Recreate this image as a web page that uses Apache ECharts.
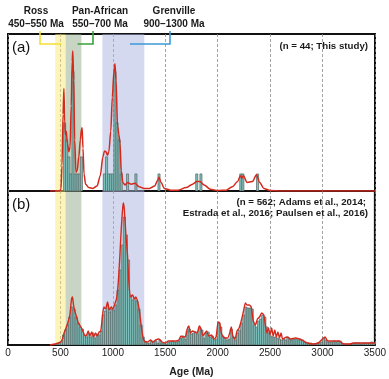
<!DOCTYPE html>
<html><head><meta charset="utf-8">
<script src="https://cdn.jsdelivr.net/npm/echarts@6/dist/echarts.min.js"></script>
<style>html,body{margin:0;padding:0;background:#fff}#c{width:389px;height:379px}</style>
</head><body><div id="c"></div>
<script>
// ---- data ----
const xTicks = [0, 500, 1000, 1500, 2000, 2500, 3000, 3500];
const binWidth = 20;
// panel (a): this study, histogram bins (start age, count)
const aBinStarts = [530, 550, 570, 590, 610, 630, 650, 670, 690, 910, 930, 950, 970, 990, 1010, 1030, 1050, 1070, 1130, 1210, 1430, 1790, 1830, 2210, 2230, 2370];
const aCounts    = [4, 3, 2, 1, 7, 1, 1, 1, 2, 1, 2, 1, 1, 1, 7, 4, 3, 1, 1, 1, 1, 1, 1, 1, 1, 1];
// panel (a) probability density curve (age, scaled density)
const aKdeAges = [400, 495, 505, 515, 525, 533, 541, 548, 556, 566, 580, 592, 603, 612, 618, 626, 636, 648, 660, 675, 690, 700, 707, 715, 725, 740, 770, 810, 850, 880, 905, 920, 935, 948, 962, 980, 995, 1010, 1020, 1030, 1045, 1058, 1068, 1080, 1095, 1115, 1140, 1175, 1210, 1250, 1300, 1350, 1400, 1425, 1440, 1460, 1490, 1550, 1620, 1700, 1760, 1800, 1830, 1870, 1930, 2000, 2080, 2140, 2190, 2215, 2230, 2245, 2280, 2330, 2370, 2400, 2440, 2500, 2600, 3500];
const aKdeVals = [0, 0, 0.1, 1.5, 4.5, 6.0, 4.0, 3.3, 3.5, 2.8, 2.3, 2.6, 5.0, 7.6, 8.2, 6.5, 3.0, 1.1, 1.2, 2.0, 3.0, 3.6, 3.7, 2.5, 1.0, 0.4, 0.2, 0.15, 0.3, 0.9, 2.0, 2.35, 2.3, 2.1, 2.3, 3.5, 5.5, 7.0, 7.45, 6.5, 3.8, 3.3, 2.8, 1.2, 0.5, 0.35, 0.5, 0.4, 0.45, 0.25, 0.15, 0.15, 0.3, 0.6, 0.8, 0.5, 0.15, 0.05, 0.05, 0.2, 0.4, 0.55, 0.55, 0.35, 0.1, 0.03, 0.05, 0.25, 0.55, 0.9, 0.75, 0.9, 0.5, 0.55, 0.95, 0.5, 0.15, 0.03, 0, 0];
// panel (b): compilation, histogram bins of 20 Ma starting at 400 Ma (relative heights)
const bFirstBin = 400;
const bHeights = [
  0,0,0,1,2,3,10,15,20,28,
  38,36,28,22,18,16,10,8,12,8,
  12,7,11,10,14,30,34,40,33,36,
  35,40,55,75,100,128,110,85,50,45,
  47,44,36,20,8,3,2,2,4,3,
  4,2,5,2,2,1,3,3,4,3,
  3,4,7,9,6,14,16,11,12,13,
  11,17,15,7,12,13,8,9,5,6,
  22,18,9,7,5,6,16,8,5,12,
  15,22,30,38,37,37,36,20,18,24,
  26,30,28,18,12,9,8,8,7,6,
  5,6,5,8,6,5,6,6,5,6,
  5,3,2,2,2,1,1,2,2,3,
  7,5,3,3,3,4,3,4,4,2,
  1,1,1,1,2,2,2,2,1,2,
  2,2,2,3,2];
// panel (b) probability density curve
const bKdeAges = [400,450,480,500,520,535,550,570,590,605,615,625,640,655,670,690,710,730,745,765,780,800,815,835,850,870,885,900,915,930,950,965,985,1000,1015,1035,1050,1065,1080,1095,1102,1110,1125,1140,1155,1170,1190,1205,1220,1240,1255,1270,1285,1300,1330,1360,1380,1410,1440,1470,1500,1530,1560,1600,1630,1650,1670,1690,1710,1725,1740,1760,1785,1805,1825,1845,1860,1880,1895,1915,1940,1965,1985,2005,2020,2035,2055,2075,2095,2115,2130,2145,2165,2185,2205,2225,2245,2265,2280,2300,2320,2340,2360,2380,2400,2420,2440,2455,2470,2485,2500,2515,2530,2545,2560,2575,2590,2605,2620,2640,2660,2680,2700,2740,2780,2820,2860,2900,2960,3000,3025,3050,3100,3160,3200,3260,3300,3400,3500];
const bKdeVals = [0,1,2,3,6,12,16,22,30,45,48,40,33,28,22,19,15,10,9,14,9,13,8,12,9,13,14,28,38,36,43,35,38,36,40,46,60,85,115,138,142,135,110,90,60,48,50,46,48,42,33,20,9,4,3,5,3,5,6,3,2,4,4,4,5,9,8,8,16,19,12,14,13,12,19,15,9,12,14,9,10,6,8,23,22,12,8,7,7,12,18,9,6,14,17,24,33,42,40,40,38,24,20,26,28,32,30,20,12,17,10,17,9,15,8,13,7,12,6,7,8,7,6,7,6,4,2,1,2,6,8,4,4,4,1,1,2,2,2];
// age bands
const bands = [
  {name: 'Ross', from: 450, to: 550, fill: 'rgba(250,234,120,0.5)', line: '#f2e030'},
  {name: 'Pan-African', from: 550, to: 700, fill: 'rgba(146,172,138,0.5)', line: '#3aa33a'},
  {name: 'Grenville', from: 900, to: 1300, fill: 'rgba(170,180,226,0.5)', line: '#3d9bd8'}
];

// ---- chart ----
const chart = echarts.init(document.getElementById('c'), null, {renderer: 'canvas'});
const FONT = '"Liberation Sans", Arial, sans-serif';
const aHist = aBinStarts.map((s, i) => [s, aCounts[i]]);
const bHist = bHeights.map((h, i) => [bFirstBin + i * binWidth, h]);
const aKde = aKdeAges.map((a, i) => [a, aKdeVals[i]]);
const bKde = bKdeAges.map((a, i) => [a, bKdeVals[i]]);

function histItem(params, api) {
  const x0 = api.value(0), h = api.value(1);
  const p0 = api.coord([x0, h]);
  const p1 = api.coord([x0 + binWidth, 0]);
  return {type: 'rect', shape: {x: p0[0], y: p0[1], width: p1[0] - p0[0], height: p1[1] - p0[1]},
    style: {fill: '#7dbfbb', stroke: '#5a6664', lineWidth: 0.7}};
}
const bandArea = bands.map(b => [{xAxis: b.from, itemStyle: {color: b.fill}}, {xAxis: b.to}]);
function xAxisCfg(grid, labels) {
  return {type: 'value', gridIndex: grid, min: xTicks[0], max: xTicks[xTicks.length - 1], interval: 500,
    axisLine: {show: false}, axisTick: {show: false},
    axisLabel: {show: labels, fontSize: 10, color: '#222', fontFamily: FONT, margin: 3, formatter: v => String(v)},
    splitLine: {show: true, lineStyle: {type: [3, 2], color: '#8a8a8a', width: 0.8}},
    name: labels ? 'Age (Ma)' : '', nameLocation: 'middle', nameGap: 22,
    nameTextStyle: {fontSize: 10.5, fontWeight: 'bold', color: '#222', fontFamily: FONT}};
}
const option = {
  animation: false,
  backgroundColor: '#fff',
  grid: [
    {left: 8, top: 34, width: 367, height: 157, show: true, borderColor: '#111', borderWidth: 2, backgroundColor: 'transparent'},
    {left: 8, top: 191, width: 367, height: 154, show: true, borderColor: '#111', borderWidth: 2, backgroundColor: 'transparent'}
  ],
  xAxis: [xAxisCfg(0, false), xAxisCfg(1, true)],
  yAxis: [
    {type: 'value', gridIndex: 0, min: 0, max: 9.2, show: false, splitLine: {show: false}},
    {type: 'value', gridIndex: 1, min: 0, max: 154, show: false, splitLine: {show: false}}
  ],
  series: [
    {type: 'line', xAxisIndex: 0, yAxisIndex: 0, data: [[0, 0]], symbol: 'none', lineStyle: {opacity: 0}, z: 1, silent: true,
      markArea: {silent: true, data: bandArea}},
    {type: 'line', xAxisIndex: 1, yAxisIndex: 1, data: [[0, 0]], symbol: 'none', lineStyle: {opacity: 0}, z: 1, silent: true,
      markArea: {silent: true, data: bandArea}},
    {type: 'custom', xAxisIndex: 0, yAxisIndex: 0, data: aHist, renderItem: histItem, encode: {x: 0, y: 1}, z: 3, clip: true},
    {type: 'line', xAxisIndex: 0, yAxisIndex: 0, data: aKde, symbol: 'none', smooth: 0.3, smoothMonotone: 'x',
      lineStyle: {color: '#d42a1e', width: 1.5}, z: 4},
    {type: 'custom', xAxisIndex: 1, yAxisIndex: 1, data: bHist, renderItem: histItem, encode: {x: 0, y: 1}, z: 3, clip: true},
    {type: 'line', xAxisIndex: 1, yAxisIndex: 1, data: bKde, symbol: 'none', smooth: 0.2,
      lineStyle: {color: '#d42a1e', width: 1.4}, z: 4}
  ]
};
chart.setOption(option);

// annotations: band labels and brackets
const labelPos = [{x: 36, vx: 40}, {x: 100, vx: 93}, {x: 174, vx: 170}];
const bandRanges = ['450\u2013550 Ma', '550\u2013700 Ma', '900\u20131300 Ma'];
const bracketEndAge = [510, 663, 1163];
const g = [];
bands.forEach((b, i) => {
  const ex = chart.convertToPixel({xAxisIndex: 0}, bracketEndAge[i]);
  const lp = labelPos[i];
  g.push({type: 'text', x: lp.x, y: 11, style: {text: b.name, font: 'bold 10px ' + FONT, fill: '#1a1a1a', align: 'center', verticalAlign: 'middle'}});
  g.push({type: 'text', x: lp.x, y: 24, style: {text: bandRanges[i], font: 'bold 10px ' + FONT, fill: '#1a1a1a', align: 'center', verticalAlign: 'middle'}});
  g.push({type: 'polyline', shape: {points: [[lp.vx, 31], [lp.vx, 44], [ex, 44]]}, style: {stroke: b.line, lineWidth: 1.6, fill: null}, z: 10});
});
g.push({type: 'text', x: 12, y: 48, style: {text: '(a)', font: '15px ' + FONT, fill: '#111', verticalAlign: 'middle'}, z: 10});
g.push({type: 'text', x: 12, y: 205, style: {text: '(b)', font: '15px ' + FONT, fill: '#111', verticalAlign: 'middle'}, z: 10});
g.push({type: 'text', x: 368, y: 46, style: {text: '(n = 44; This study)', font: 'bold 9.7px ' + FONT, fill: '#1a1a1a', align: 'right', verticalAlign: 'middle'}, z: 10});
g.push({type: 'text', x: 366, y: 202, style: {text: '(n = 562; Adams et al., 2014;', font: 'bold 9.7px ' + FONT, fill: '#1a1a1a', align: 'right', verticalAlign: 'middle'}, z: 10});
g.push({type: 'text', x: 368, y: 213, style: {text: 'Estrada et al., 2016; Paulsen et al., 2016)', font: 'bold 9.7px ' + FONT, fill: '#1a1a1a', align: 'right', verticalAlign: 'middle'}, z: 10});
chart.setOption({graphic: g});
</script></body></html>
